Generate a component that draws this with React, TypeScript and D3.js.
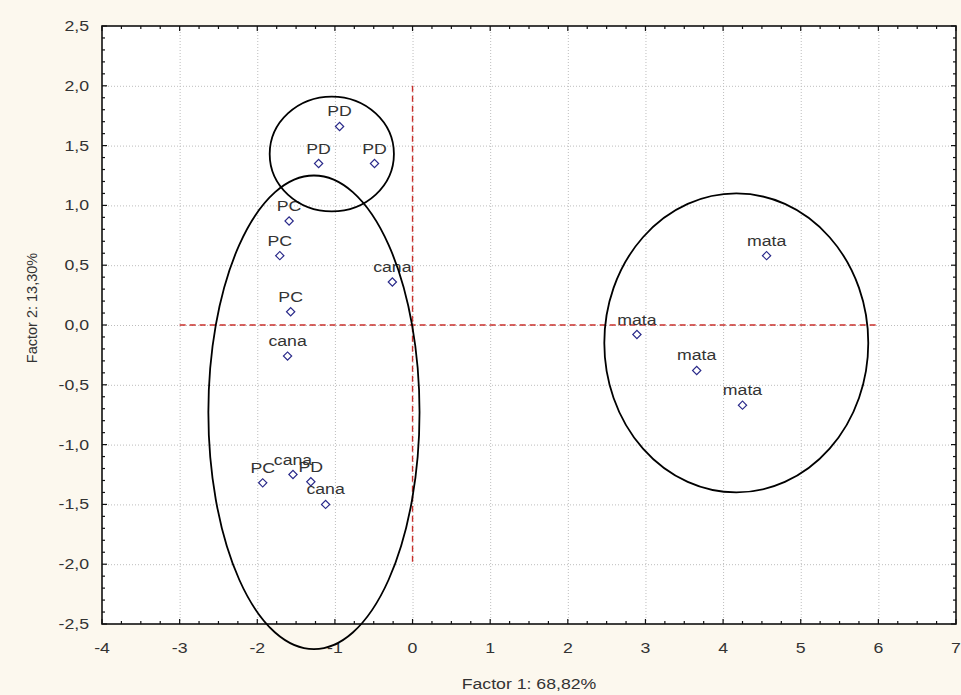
import { useEffect, useRef } from 'react'
import * as d3 from 'd3'

// scores of the samples on the two first factors
const labels = ['PD', 'PD', 'PD', 'PC', 'PC', 'cana', 'PC', 'cana', 'PC', 'cana', 'PD', 'cana', 'mata', 'mata', 'mata', 'mata']
const factor1 = [-0.94, -1.21, -0.49, -1.59, -1.71, -0.26, -1.57, -1.61, -1.93, -1.54, -1.31, -1.12, 4.56, 2.89, 3.66, 4.25]
const factor2 = [1.66, 1.35, 1.35, 0.87, 0.58, 0.36, 0.11, -0.26, -1.32, -1.25, -1.31, -1.5, 0.58, -0.08, -0.38, -0.67]

// grupos marcados a mano (centro y radios en unidades de los ejes)
const groupCx = [-1.04, -1.27, 4.17]
const groupCy = [1.43, -0.73, -0.15]
const groupRx = [0.8, 1.36, 1.7]
const groupRy = [0.48, 1.98, 1.25]

const xTicks = [-4, -3, -2, -1, 0, 1, 2, 3, 4, 5, 6, 7]
const yTicks = [-2.5, -2, -1.5, -1, -0.5, 0, 0.5, 1, 1.5, 2, 2.5]

const xTitle = 'Factor 1: 68,82%'
const yTitle = 'Factor 2: 13,30%'

const W = 961
const H = 695
const FONT = 'Liberation Sans, Arial, sans-serif'
const TEXT = '#333'
const STRETCH = 1.18

const App = () => {
  const ref = useRef<SVGSVGElement>(null)

  useEffect(() => {
    if (!ref.current) return
    const svg = d3.select(ref.current)
    svg.selectAll('*').remove()

    const margin = { top: 26, right: 5, bottom: 71, left: 102 }
    const x = d3.scaleLinear().domain([-4, 7]).range([margin.left, W - margin.right])
    const y = d3.scaleLinear().domain([-2.5, 2.5]).range([H - margin.bottom, margin.top])
    const [x0, x1] = x.range()
    const [y0, y1] = y.range() // y0 abajo, y1 arriba

    const loc = d3.formatLocale({ decimal: ',', thousands: '.', grouping: [3], currency: ['', ''], minus: '-' })
    const fy = loc.format('.1f')
    const fx = loc.format('d')

    const addText = (str: string, tx: number, ty: number, anchor: string, size = 15) =>
      svg.append('text')
        .attr('transform', `translate(${tx},${ty}) scale(${STRETCH},1)`)
        .attr('text-anchor', anchor)
        .style('font-family', FONT)
        .style('font-size', `${size}px`)
        .style('fill', TEXT)
        .text(str)

    // fondo
    svg.append('rect').attr('width', W).attr('height', H).attr('fill', '#fcf8ee')
    svg.append('rect')
      .attr('x', x0).attr('y', y1)
      .attr('width', x1 - x0).attr('height', y0 - y1)
      .attr('fill', '#fff')

    // grid
    const grid = svg.append('g')
      .attr('stroke', '#bdbdbd')
      .attr('stroke-width', 1)
      .attr('stroke-dasharray', '1,2')
    grid.selectAll('.gx')
      .data(xTicks.slice(1, -1))
      .enter().append('line')
      .attr('x1', d => x(d) + 0.5).attr('x2', d => x(d) + 0.5)
      .attr('y1', y1).attr('y2', y0)
    grid.selectAll('.gy')
      .data(yTicks.slice(1, -1))
      .enter().append('line')
      .attr('y1', d => y(d) + 0.5).attr('y2', d => y(d) + 0.5)
      .attr('x1', x0).attr('x2', x1)

    // ejes de referencia (rojo)
    const ref0 = svg.append('g')
      .attr('stroke', '#c9302c')
      .attr('stroke-width', 1.4)
      .attr('stroke-dasharray', '6,4')
    ref0.append('line')
      .attr('x1', x(0)).attr('x2', x(0))
      .attr('y1', y(2)).attr('y2', y(-2))
    ref0.append('line')
      .attr('x1', x(-3)).attr('x2', x(6))
      .attr('y1', y(0)).attr('y2', y(0))

    // marco
    svg.append('rect')
      .attr('x', x0).attr('y', y1)
      .attr('width', x1 - x0).attr('height', y0 - y1)
      .attr('fill', 'none')
      .attr('stroke', '#111')
      .attr('stroke-width', 1.6)

    // ticks hacia adentro en los cuatro lados
    const ticks = svg.append('g').attr('stroke', '#111').attr('stroke-width', 1.2)
    const xMinor = d3.range(-4, 7.001, 0.25)
    const yMinor = d3.range(-2.5, 2.501, 0.1)
    const isMajorX = (v: number) => Math.abs(v - Math.round(v)) < 1e-6
    const isMajorY = (v: number) => Math.abs(v * 2 - Math.round(v * 2)) < 1e-6
    xMinor.forEach(v => {
      const len = isMajorX(v) ? 5 : 3
      ticks.append('line').attr('x1', x(v)).attr('x2', x(v)).attr('y1', y0).attr('y2', y0 - len)
      ticks.append('line').attr('x1', x(v)).attr('x2', x(v)).attr('y1', y1).attr('y2', y1 + len)
    })
    yMinor.forEach(v => {
      const len = isMajorY(v) ? 5 : 3
      ticks.append('line').attr('y1', y(v)).attr('y2', y(v)).attr('x1', x0).attr('x2', x0 + len)
      ticks.append('line').attr('y1', y(v)).attr('y2', y(v)).attr('x1', x1).attr('x2', x1 - len)
    })

    // etiquetas de ticks
    xTicks.forEach(v => addText(fx(v), x(v), y0 + 29, 'middle'))
    yTicks.forEach(v => addText(fy(v), x0 - 13, y(v) + 5, 'end'))

    // títulos
    addText(xTitle, (x0 + x1) / 2, H - 6, 'middle')
    svg.append('text')
      .attr('transform', `translate(37,${(y0 + y1) / 2 - 17}) rotate(-90)`)
      .attr('text-anchor', 'middle')
      .style('font-family', FONT)
      .style('font-size', '14.5px')
      .style('fill', TEXT)
      .text(yTitle)

    // puntos
    const pts = labels.map((l, i) => ({ label: l, f1: factor1[i], f2: factor2[i] }))
    const diamond = d3.symbol().type(d3.symbolSquare).size(34)
    svg.selectAll('.pt')
      .data(pts)
      .enter().append('path')
      .attr('d', diamond)
      .attr('transform', d => `translate(${x(d.f1)},${y(d.f2)}) rotate(45)`)
      .attr('fill', '#fff')
      .attr('stroke', '#2a2a8a')
      .attr('stroke-width', 1.2)
    pts.forEach(d => addText(d.label, x(d.f1), y(d.f2) - 10, 'middle'))

    // elipses de los grupos
    groupCx.forEach((cx, i) => {
      svg.append('ellipse')
        .attr('cx', x(cx))
        .attr('cy', y(groupCy[i]))
        .attr('rx', x(cx + groupRx[i]) - x(cx))
        .attr('ry', y(groupCy[i] - groupRy[i]) - y(groupCy[i]))
        .attr('fill', 'none')
        .attr('stroke', '#000')
        .attr('stroke-width', 1.8)
    })
  }, [])

  return (
    <svg
      ref={ref}
      width={W}
      height={H}
      style={{ position: 'absolute', left: 0, top: 0, display: 'block' }}
    />
  )
}

export default App
